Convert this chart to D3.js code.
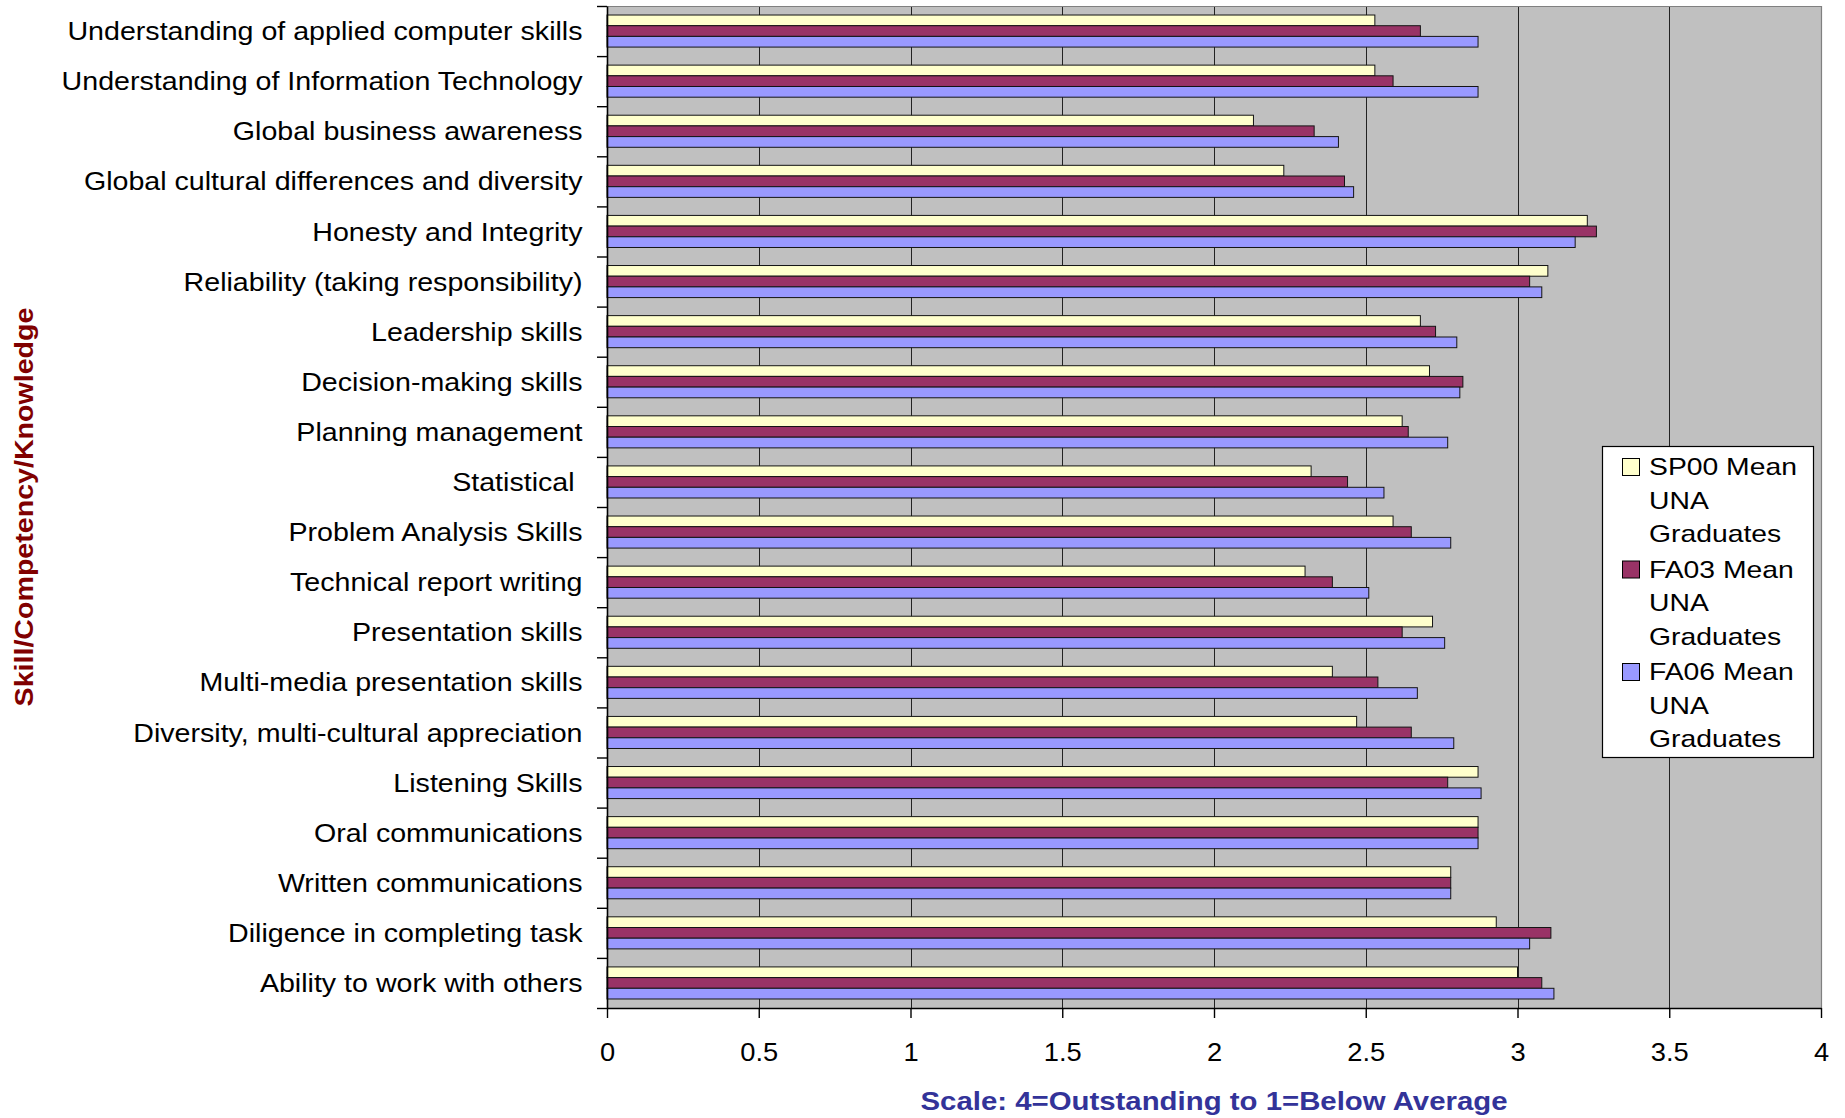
<!DOCTYPE html>
<html>
<head>
<meta charset="utf-8">
<script src="https://cdn.jsdelivr.net/npm/d3@7"></script>
<style>
  html, body { margin: 0; padding: 0; background: #ffffff; }
  svg { display: block; font-family: "Liberation Sans", Arial, sans-serif; }
  .cat-label { white-space: pre; }
</style>
</head>
<body>
<svg id="chart" width="1845" height="1118"></svg>
<script>
// Skill / competency items, listed top to bottom
const categories = [
  "Understanding of applied computer skills",
  "Understanding of Information Technology",
  "Global business awareness",
  "Global cultural differences and diversity",
  "Honesty and Integrity",
  "Reliability (taking responsibility)",
  "Leadership skills",
  "Decision-making skills",
  "Planning management",
  "Statistical ",
  "Problem Analysis Skills",
  "Technical report writing",
  "Presentation skills",
  "Multi-media presentation skills",
  "Diversity, multi-cultural appreciation",
  "Listening Skills",
  "Oral communications",
  "Written communications",
  "Diligence in completing task",
  "Ability to work with others"
];

// Mean ratings per survey (4 = Outstanding ... 1 = Below Average)
const sp00 = [2.53, 2.53, 2.13, 2.23, 3.23, 3.10, 2.68, 2.71, 2.62, 2.32,
              2.59, 2.30, 2.72, 2.39, 2.47, 2.87, 2.87, 2.78, 2.93, 3.00];
const fa03 = [2.68, 2.59, 2.33, 2.43, 3.26, 3.04, 2.73, 2.82, 2.64, 2.44,
              2.65, 2.39, 2.62, 2.54, 2.65, 2.77, 2.87, 2.78, 3.11, 3.08];
const fa06 = [2.87, 2.87, 2.41, 2.46, 3.19, 3.08, 2.80, 2.81, 2.77, 2.56,
              2.78, 2.51, 2.76, 2.67, 2.79, 2.88, 2.87, 2.78, 3.04, 3.12];

const seriesKeys = ["SP00", "FA03", "FA06"];
const seriesValues = [sp00, fa03, fa06];
const seriesColors = ["#FFFFCC", "#993366", "#9999FF"];
const legendLines = [
  ["SP00 Mean", "UNA", "Graduates"],
  ["FA03 Mean", "UNA", "Graduates"],
  ["FA06 Mean", "UNA", "Graduates"]
];

const xTicks = [0, 0.5, 1, 1.5, 2, 2.5, 3, 3.5, 4];
const xTitle = "Scale: 4=Outstanding to 1=Below Average";
const yTitle = "Skill/Competency/Knowledge";

// ---- layout ----
const plot = { left: 607, right: 1821, top: 6, bottom: 1008 };

const svg = d3.select("#chart");

const x = d3.scaleLinear().domain([0, 4]).range([plot.left, plot.right]);
const y = d3.scaleBand()
  .domain(categories)
  .range([plot.top, plot.bottom])
  .paddingInner(0.36)
  .paddingOuter(0.18);
const ySub = d3.scaleBand().domain(seriesKeys).range([0, y.bandwidth()]);
const yEdge = d3.scaleLinear().domain([0, categories.length]).range([plot.top, plot.bottom]);

// plot area background
svg.append("rect")
  .attr("x", plot.left).attr("y", plot.top)
  .attr("width", plot.right - plot.left)
  .attr("height", plot.bottom - plot.top)
  .attr("fill", "#C0C0C0");

// vertical gridlines
svg.append("g")
  .selectAll("line")
  .data(xTicks.filter(d => d > 0 && d < 4))
  .join("line")
  .attr("x1", d => Math.round(x(d)) + 0.5).attr("x2", d => Math.round(x(d)) + 0.5)
  .attr("y1", plot.top).attr("y2", plot.bottom)
  .attr("stroke", "#222").attr("stroke-width", 1);

// plot frame (top and right)
svg.append("path")
  .attr("d", `M${plot.left},${plot.top + 0.5}H${plot.right + 0.5}V${plot.bottom}`)
  .attr("fill", "none").attr("stroke", "#808080").attr("stroke-width", 1.2);

// bars
const rows = categories.map((c, i) => ({
  cat: c,
  vals: seriesKeys.map((k, j) => ({ key: k, value: seriesValues[j][i], color: seriesColors[j] }))
}));

svg.append("g")
  .selectAll("g")
  .data(rows)
  .join("g")
  .attr("transform", d => `translate(0,${y(d.cat)})`)
  .selectAll("rect")
  .data(d => d.vals)
  .join("rect")
  .attr("x", x(0))
  .attr("y", d => ySub(d.key))
  .attr("width", d => x(d.value) - x(0))
  .attr("height", ySub.bandwidth())
  .attr("fill", d => d.color)
  .attr("stroke", "#141414")
  .attr("stroke-width", 1);

// left axis: boundary ticks between categories
const yTickAxis = svg.append("g")
  .attr("transform", `translate(${plot.left},0)`)
  .call(d3.axisLeft(yEdge).tickValues(d3.range(categories.length + 1)).tickSize(10).tickFormat("").tickSizeOuter(0));
yTickAxis.selectAll("line").attr("stroke", "#000").attr("stroke-width", 1.4);
yTickAxis.select(".domain").attr("stroke", "#000").attr("stroke-width", 1.6);

// left axis: category labels
const labelScale = 1.1;
const yLabelAxis = svg.append("g")
  .attr("transform", `translate(${plot.left},0)`)
  .call(d3.axisLeft(y).tickSize(0).tickPadding(0));
yLabelAxis.select(".domain").remove();
yLabelAxis.selectAll("text")
  .attr("class", "cat-label")
  .attr("x", -24.5 / labelScale)
  .attr("dy", "0.35em")
  .attr("transform", `scale(${labelScale},1)`)
  .attr("font-size", 26)
  .attr("font-family", "Liberation Sans, Arial, sans-serif")
  .attr("fill", "#000");

// bottom axis
const tickScale = 1.05;
const xAxis = svg.append("g")
  .attr("transform", `translate(0,${plot.bottom})`)
  .call(d3.axisBottom(x).tickValues(xTicks).tickSize(10).tickSizeOuter(0).tickFormat(d => String(d)));
xAxis.select(".domain").attr("stroke", "#000").attr("stroke-width", 1.6);
xAxis.selectAll("line").attr("stroke", "#000").attr("stroke-width", 1.4);
xAxis.selectAll("text")
  .attr("y", 53.5)
  .attr("dy", 0)
  .attr("transform", `scale(${tickScale},1)`)
  .attr("font-size", 26)
  .attr("font-family", "Liberation Sans, Arial, sans-serif")
  .attr("fill", "#000");

// axis titles
svg.append("text")
  .attr("transform", `translate(${(plot.left + plot.right) / 2},1110) scale(1.13,1)`)
  .attr("text-anchor", "middle")
  .attr("font-size", 26)
  .attr("font-weight", "bold")
  .attr("fill", "#333399")
  .text(xTitle);

svg.append("text")
  .attr("transform", `translate(33,${(plot.top + plot.bottom) / 2}) rotate(-90) scale(1.1,1)`)
  .attr("text-anchor", "middle")
  .attr("font-size", 26)
  .attr("font-weight", "bold")
  .attr("fill", "#800000")
  .text(yTitle);

// legend
const legend = svg.append("g");
legend.append("rect")
  .attr("x", 1602.5).attr("y", 446.5)
  .attr("width", 211).attr("height", 311)
  .attr("fill", "#fff").attr("stroke", "#000").attr("stroke-width", 1.2);

const legendItems = legend.selectAll("g.item")
  .data(seriesKeys.map((k, i) => ({ key: k, color: seriesColors[i], lines: legendLines[i], i })))
  .join("g")
  .attr("class", "item")
  .attr("transform", d => `translate(0,${d.i * 102.5})`);

legendItems.append("rect")
  .attr("x", 1622.5).attr("y", 458.5)
  .attr("width", 17).attr("height", 17)
  .attr("fill", d => d.color)
  .attr("stroke", "#000").attr("stroke-width", 1);

legendItems.selectAll("text")
  .data(d => d.lines)
  .join("text")
  .attr("transform", (t, j) => `translate(1649,${475 + j * 33.5}) scale(1.18,1)`)
  .attr("font-size", 24)
  .attr("fill", "#000")
  .text(t => t);
</script>
</body>
</html>
